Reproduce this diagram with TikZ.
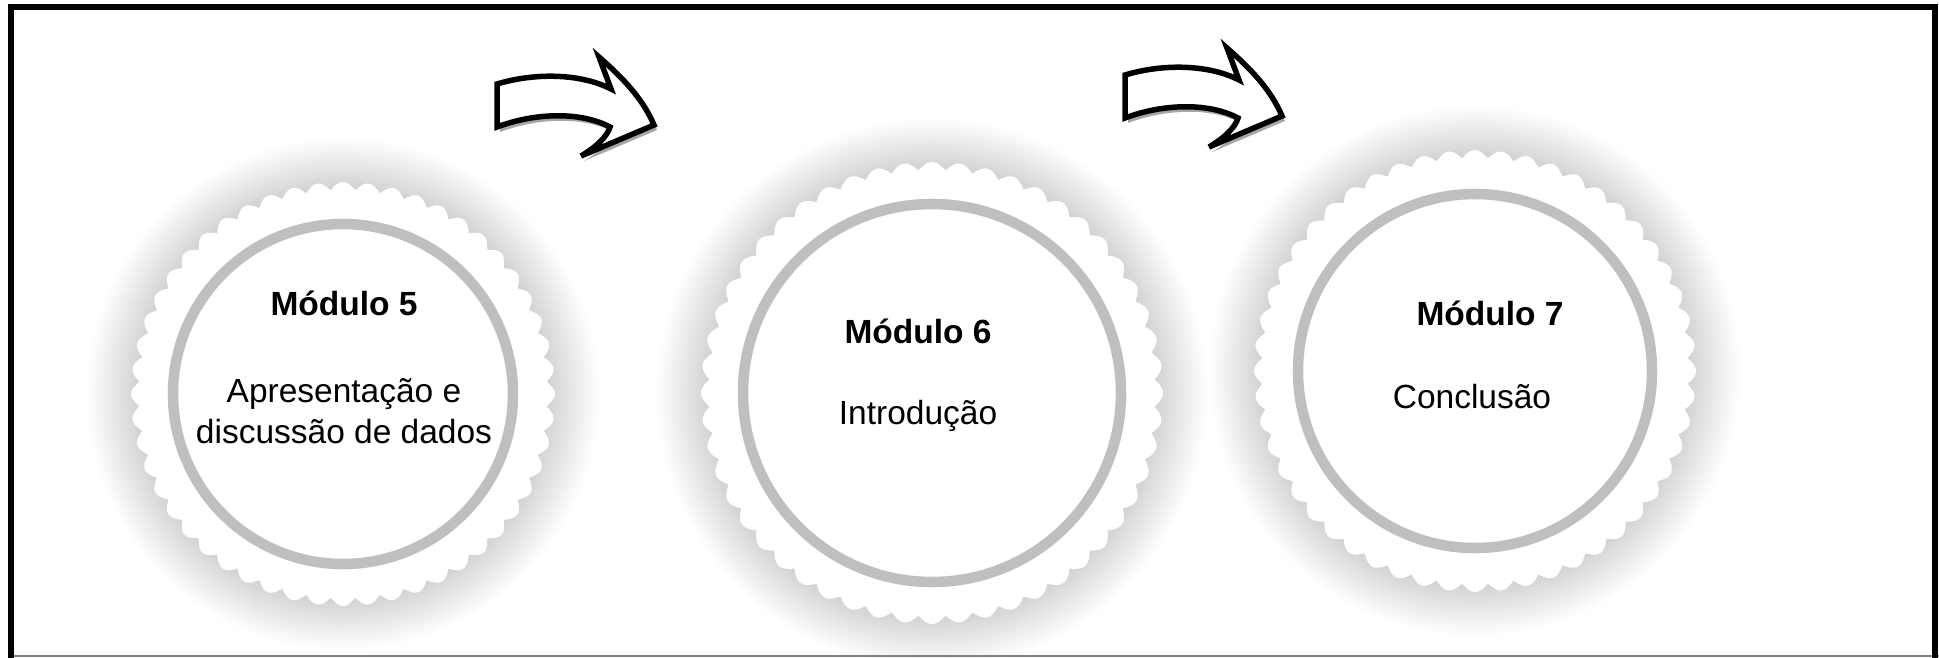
\documentclass[tikz,border=0pt]{standalone}
\usepackage{fontspec}
\setmainfont{Liberation Sans}
\definecolor{ringgray}{HTML}{BFBFBF}
\definecolor{shadowgray}{HTML}{A6A6A6}
\newcommand{\gearglow}[2]{%
  \foreach \k in {1,...,22}{\fill[black,opacity=0.007] (#1) circle[radius={#2pt+\k*2.3pt}];}}
\newcommand{\gearbody}[2]{%
  \fill[white,shift={(#1)}] plot[domain=0:360,samples=1041] ({\x}:{#2-8+8*abs(cos(26*\x))}) -- cycle;}
\begin{document}
\begin{tikzpicture}[x=1pt,y=-1pt,
  ring/.style={draw=ringgray,line width=10.5pt,fill=white},
  modtitle/.style={font=\fontsize{33.5}{41}\selectfont\bfseries,anchor=base,inner sep=0pt},
  modtext/.style={font=\fontsize{33.5}{41}\selectfont,anchor=base,inner sep=0pt},
  pics/bentarrow/.style={code={
    \fill[shadowgray,shift={(3,5)}] (0,0) .. controls (40,-12) and (85,-10) .. (114,5) -- (102,-27)
      .. controls (126,-6) and (146,15) .. (157,41) -- (84,72) .. controls (99,63) and (110,53) .. (113,43)
      .. controls (85,28) and (40,28) .. (0,43) -- cycle;
    \draw[line width=5.5pt,fill=white,line join=miter] (0,0) .. controls (40,-12) and (85,-10) .. (114,5) -- (102,-27)
      .. controls (126,-6) and (146,15) .. (157,41) -- (84,72) .. controls (99,63) and (110,53) .. (113,43)
      .. controls (85,28) and (40,28) .. (0,43) -- cycle;
  }}]
\useasboundingbox (0,0) rectangle (1939,657);
\clip (0,0) rectangle (1939,657);
\fill[white] (0,0) rectangle (1939,657);
% centres
\coordinate (g1) at (343,394);
\coordinate (g2) at (932,393);
\coordinate (g3) at (1475,371);
% glows
\gearglow{g1}{205}
\gearglow{g2}{224}
\gearglow{g3}{214}
% gear bodies
\gearbody{g1}{212}
\gearbody{g2}{231}
\gearbody{g3}{221}
% inner rings
\draw[ring] (g1) circle[radius=170pt];
\draw[ring] (g2) circle[radius=189pt];
\draw[ring] (g3) circle[radius=177pt];
% texts
\node[modtitle] (t5) at (344,315) {Módulo 5};
\node[modtext] (d5a) at (344,402) {Apresentação e};
\node[modtext] (d5b) at (344,443) {discussão de dados};
\node[modtitle] (t6) at (918,343) {Módulo 6};
\node[modtext] (d6) at (918,424) {Introdução};
\node[modtitle] (t7) at (1490,325) {Módulo 7};
\node[modtext] (d7) at (1472,408) {Conclusão};
% arrows
\pic (a1) at (497,84) {bentarrow};
\pic (a2) at (1125,75) {bentarrow};
% frame
\draw[gray,line width=1.5pt] (10,656.2) -- (1939,656.2);
\draw[line width=6pt] (10.5,700) -- (10.5,7) -- (1934.5,7) -- (1934.5,700);
\end{tikzpicture}
\end{document}
